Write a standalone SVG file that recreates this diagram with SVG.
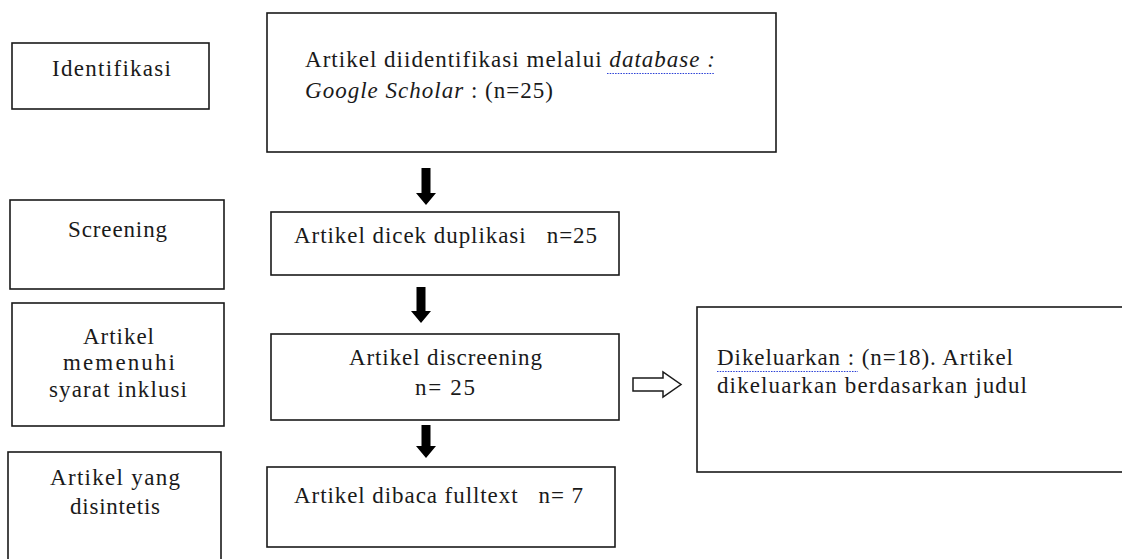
<svg xmlns="http://www.w3.org/2000/svg" width="1122" height="559" viewBox="0 0 1122 559">
<style>
.box{fill:#fff;stroke:#1a1a1a;stroke-width:1.6}
.t{font-family:'Liberation Serif','Tinos','Times New Roman','DejaVu Serif',serif;font-size:23px;fill:#1a1a1a}
.c{text-anchor:middle}
.i{font-style:italic}
.arr{fill:#000}
.harr{fill:#fff;stroke:#1a1a1a;stroke-width:1.5;stroke-linejoin:miter}
.sq{fill:none;stroke:#2a3fd6;stroke-width:1.1;stroke-dasharray:1.5 1.2}
</style>
<rect width="1122" height="559" fill="#fff"/>

<g id="label-identifikasi">
<rect class="box" x="12" y="43" width="197" height="66"/>
<text class="t" font-family="Liberation Serif, serif" x="52" y="76" textLength="119" lengthAdjust="spacing">Identifikasi</text>
</g>

<g id="node-identified">
<rect class="box" x="267" y="13" width="509" height="139"/>
<text class="t" font-family="Liberation Serif, serif" x="305" y="67" textLength="410" lengthAdjust="spacing">Artikel diidentifikasi melalui <tspan class="i">database :</tspan></text>
<text class="t" font-family="Liberation Serif, serif" x="305" y="98" textLength="248" lengthAdjust="spacing"><tspan class="i">Google Scholar</tspan> : (n=25)</text>
<path class="sq" d="M607 73.5 L714 73.5"/>
</g>

<g id="label-screening">
<rect class="box" x="10" y="200" width="214" height="89"/>
<text class="t" font-family="Liberation Serif, serif" x="68" y="237" textLength="99" lengthAdjust="spacing">Screening</text>
</g>

<g id="node-duplikasi">
<rect class="box" x="271" y="212" width="348" height="63"/>
<text class="t" font-family="Liberation Serif, serif" x="294" y="243" textLength="303" lengthAdjust="spacing" xml:space="preserve">Artikel dicek duplikasi   n=25</text>
</g>

<g id="label-inklusi">
<rect class="box" x="12" y="303" width="212" height="123"/>
<text class="t" font-family="Liberation Serif, serif" x="83" y="344" textLength="71" lengthAdjust="spacing">Artikel</text>
<text class="t" font-family="Liberation Serif, serif" x="63" y="370" textLength="112" lengthAdjust="spacing">memenuhi</text>
<text class="t" font-family="Liberation Serif, serif" x="49" y="397" textLength="138" lengthAdjust="spacing">syarat inklusi</text>
</g>

<g id="node-discreening">
<rect class="box" x="271" y="334" width="348" height="86"/>
<text class="t" font-family="Liberation Serif, serif" x="349" y="365" textLength="193" lengthAdjust="spacing">Artikel discreening</text>
<text class="t" font-family="Liberation Serif, serif" x="415" y="395" textLength="60" lengthAdjust="spacing">n= 25</text>
</g>

<g id="node-dikeluarkan">
<rect class="box" x="697" y="307" width="440" height="165"/>
<text class="t" font-family="Liberation Serif, serif" x="717" y="365" textLength="296" lengthAdjust="spacing">Dikeluarkan : (n=18). Artikel</text>
<text class="t" font-family="Liberation Serif, serif" x="717" y="393" textLength="310" lengthAdjust="spacing">dikeluarkan berdasarkan judul</text>
<path class="sq" d="M717 371.5 L858 371.5"/>
</g>

<g id="label-disintetis">
<rect class="box" x="8" y="452" width="213" height="120"/>
<text class="t" font-family="Liberation Serif, serif" x="50" y="485" textLength="130" lengthAdjust="spacing">Artikel yang</text>
<text class="t" font-family="Liberation Serif, serif" x="70" y="514" textLength="90" lengthAdjust="spacing">disintetis</text>
</g>

<g id="node-fulltext">
<rect class="box" x="267" y="467" width="348" height="80"/>
<text class="t" font-family="Liberation Serif, serif" x="294" y="503" textLength="289" lengthAdjust="spacing" xml:space="preserve">Artikel dibaca fulltext   n= 7</text>
</g>

<g id="connectors">
<path class="arr" d="M421.5 168 H430.5 V193 H436 L426 205 L416 193 H421.5 Z"/>
<path class="arr" d="M416.5 287 H425.5 V311 H431 L421 323 L411 311 H416.5 Z"/>
<path class="arr" d="M421.5 425 H430.5 V446 H436 L426 458 L416 446 H421.5 Z"/>
<path class="harr" d="M633 378 H663 V372 L681 384.5 L663 397 V391 H633 Z"/>
</g>
</svg>
